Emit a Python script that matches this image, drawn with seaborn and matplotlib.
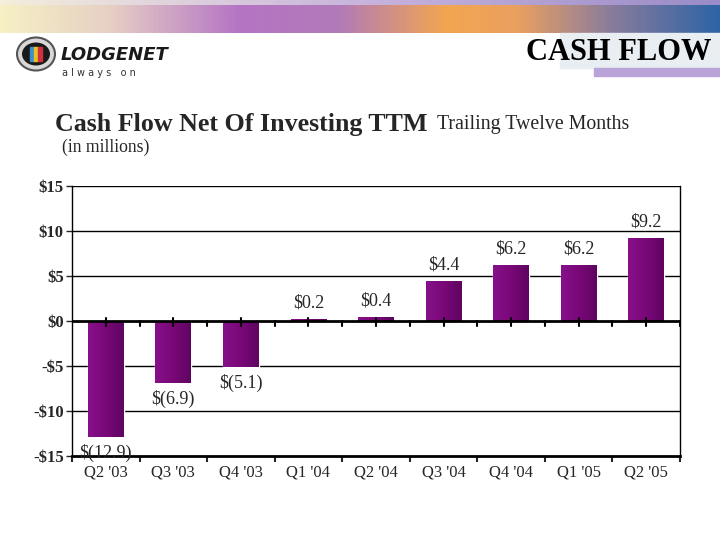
import numpy as np
import pandas as pd
import matplotlib
matplotlib.use("Agg")
import matplotlib.pyplot as plt
import seaborn as sns
from matplotlib.colors import LinearSegmentedColormap
from matplotlib.patches import Ellipse, Rectangle

# data
quarters = ["Q2 '03", "Q3 '03", "Q4 '03", "Q1 '04", "Q2 '04", "Q3 '04", "Q4 '04", "Q1 '05", "Q2 '05"]
cash_flow = [-12.9, -6.9, -5.1, 0.2, 0.4, 4.4, 6.2, 6.2, 9.2]
value_labels = ["$(12.9)", "$(6.9)", "$(5.1)", "$0.2", "$0.4", "$4.4", "$6.2", "$6.2", "$9.2"]
y_ticks = [15, 10, 5, 0, -5, -10, -15]
y_tick_labels = ["$15", "$10", "$5", "$0", "-$5", "-$10", "-$15"]

df = pd.DataFrame({"quarter": quarters, "value": cash_flow})

sns.set_style("white")
plt.rcParams["font.family"] = ["Liberation Serif", "DejaVu Serif"]

fig = plt.figure(figsize=(7.2, 5.4), dpi=100)
fig.patch.set_facecolor("white")

# top banner
banner = fig.add_axes([0, 1 - 33 / 540, 1, 28 / 540])
band_cmap = LinearSegmentedColormap.from_list(
    "band", [(0.0, "#f6f0c4"), (0.15, "#e6d0c4"), (0.33, "#b574c4"), (0.47, "#b27ab8"),
             (0.62, "#f2a650"), (0.72, "#eaa060"), (0.85, "#8a7c9c"), (1.0, "#2e64a6")])
banner.imshow(np.linspace(0, 1, 400)[None, :], aspect="auto", cmap=band_cmap, extent=[0, 1, 0, 1])
banner.axis("off")
top_strip = fig.add_axes([0, 1 - 5 / 540, 1, 5 / 540])
top_strip.imshow(np.linspace(0, 1, 200)[None, :], aspect="auto",
                 cmap=LinearSegmentedColormap.from_list("s", ["#f4eedc", "#c8b4dc", "#9a8cc8"]))
top_strip.axis("off")

# faint backdrop and lavender bar around heading
fig.patches.append(Rectangle((560 / 720, 1 - 68 / 540), 160 / 720, 35 / 540,
                             transform=fig.transFigure, color="#e8eef2", zorder=0))
fig.patches.append(Rectangle((594 / 720, 1 - 76 / 540), 126 / 720, 8 / 540,
                             transform=fig.transFigure, color="#b9a3d8", zorder=0))
fig.text(712 / 720, 1 - 53 / 540, "CASH FLOW", ha="right", va="center",
         fontsize=22, fontweight="bold", color="black")

# logo
fig.patches.append(Ellipse((36 / 720, 1 - 54 / 540), 38 / 720, 33 / 540, transform=fig.transFigure,
                           facecolor="#d8d8d8", edgecolor="#555555", lw=1.5, zorder=1))
fig.patches.append(Ellipse((36 / 720, 1 - 54 / 540), 28 / 720, 23 / 540, transform=fig.transFigure,
                           facecolor="#1a1a1a", edgecolor="none", zorder=2))
for dx, col in zip([-6, -2, 2], ["#3a8fd0", "#e8c020", "#d03040"]):
    fig.patches.append(Rectangle(((36 + dx) / 720, 1 - 61 / 540), 4 / 720, 14 / 540,
                                 transform=fig.transFigure, color=col, zorder=3))
fig.text(61 / 720, 1 - 55 / 540, "LODGENET", ha="left", va="center", fontsize=13,
         fontweight="bold", fontstyle="italic", family="DejaVu Sans", color="#1a1a1a")
fig.text(62 / 720, 1 - 73 / 540, "a l w a y s   o n", ha="left", va="center", fontsize=7,
         family="DejaVu Sans", color="#333333")

# titles
fig.text(55 / 720, 1 - 124 / 540, "Cash Flow Net Of Investing TTM", ha="left", va="center",
         fontsize=18.7, fontweight="bold")
fig.text(437 / 720, 1 - 125 / 540, "Trailing Twelve Months", ha="left", va="center", fontsize=14.3)
fig.text(62 / 720, 1 - 147 / 540, "(in millions)", ha="left", va="center", fontsize=12.7)

# chart
ax = fig.add_axes([72 / 720, 1 - 456 / 540, 608 / 720, 270 / 540])
sns.barplot(data=df, x="quarter", y="value", color="#7c0a7c", width=0.53,
            saturation=1, ax=ax, zorder=3)

# horizontal gradient inside each bar
grad = LinearSegmentedColormap.from_list("bar", ["#86108a", "#7a0878", "#5e0560"])
for p in ax.patches:
    x0, y0 = p.get_x(), p.get_y()
    w, h = p.get_width(), p.get_height()
    im = ax.imshow(np.linspace(0, 1, 50)[None, :], cmap=grad, aspect="auto",
                   extent=[x0, x0 + w, min(y0, y0 + h), max(y0, y0 + h)], zorder=4)
    im.set_clip_path(p)
ax.set_xlim(-0.5, len(quarters) - 0.5)
ax.set_ylim(-15, 15)

for i, (v, lab) in enumerate(zip(cash_flow, value_labels)):
    if v >= 0:
        ax.text(i, v + 0.9, lab, ha="center", va="bottom", fontsize=13, zorder=6)
    else:
        ax.text(i, v - 0.8, lab, ha="center", va="top", fontsize=13, zorder=6)

for yv in [15, 10, 5, -5, -10]:
    ax.axhline(yv, color="black", lw=1, zorder=1)
ax.axhline(0, color="black", lw=2, zorder=5)

# tick marks on the zero line
for i in range(len(quarters)):
    ax.plot([i, i], [-0.5, 0.3], color="black", lw=1.5, zorder=5)
    ax.plot([i + 0.5, i + 0.5], [-0.5, 0.0], color="black", lw=1.5, zorder=5)

ax.set_yticks(y_ticks)
ax.set_yticklabels(y_tick_labels, fontsize=12, fontweight="bold")
ax.set_xticks(range(len(quarters)))
ax.set_xticks(np.arange(-0.5, len(quarters), 1), minor=True)
ax.set_xticklabels(quarters, fontsize=12)
ax.tick_params(axis="x", which="major", length=4, width=1.5, direction="in", pad=6)
ax.tick_params(axis="x", which="minor", length=4, width=1.5, direction="out", bottom=True)
ax.tick_params(axis="y", length=4, width=1, direction="out", pad=2, left=True)
ax.set_xlabel("")
ax.set_ylabel("")
ax.set_facecolor("none")
ax.spines["top"].set_visible(False)
ax.spines["bottom"].set_linewidth(2)
ax.spines["left"].set_linewidth(1)
ax.spines["right"].set_linewidth(1)
for s in ax.spines.values():
    s.set_color("black")

fig.savefig("out.png", dpi=100)
